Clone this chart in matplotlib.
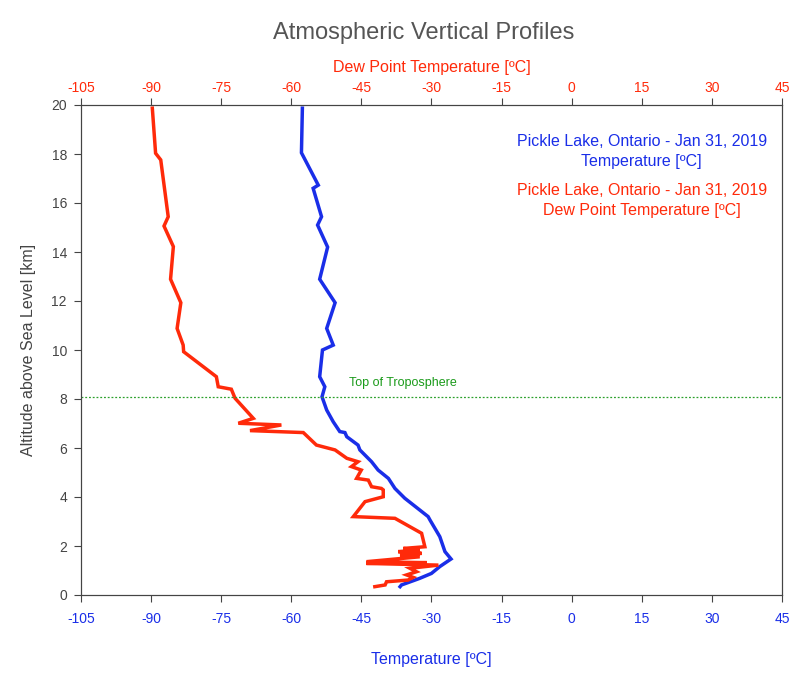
import matplotlib
matplotlib.use("Agg")
import matplotlib.pyplot as plt
import numpy as np

plt.rcParams['font.family'] = ['Liberation Sans', 'DejaVu Sans']
plt.rcParams['axes.unicode_minus'] = False

# Temperature profile (blue)
temp_c = [-57.6, -57.8, -54.2, -55.3, -53.5, -54.35, -52.2, -53.9, -50.6, -52.4,
          -51.0, -53.3, -53.9, -52.8, -53.4, -52.4, -51.0, -49.6, -48.5, -48.1,
          -45.7, -45.3, -42.8, -41.4, -39.2, -37.8, -35.7, -30.7, -30.3, -28.2,
          -27.1, -25.8, -28.2, -30.0, -32.5, -33.5, -36.4, -36.7]
temp_alt = [19.87, 18.05, 16.73, 16.6, 15.44, 15.1, 14.2, 12.89, 11.93, 10.88,
            10.2, 10.0, 8.91, 8.5, 8.09, 7.55, 7.07, 6.67, 6.63, 6.46,
            6.12, 5.92, 5.44, 5.1, 4.76, 4.35, 3.95, 3.2, 3.06, 2.38,
            1.77, 1.47, 1.16, 0.88, 0.68, 0.61, 0.41, 0.34]

# Dew point profile (red)
dew_c = [-89.7, -89.0, -87.9, -86.3, -87.2, -85.2, -85.8, -83.6, -84.4, -83.1,
         -83.0, -76.0, -75.6, -72.8, -72.0, -68.1, -71.3, -62.1, -68.8, -57.4,
         -54.6, -50.6, -48.1, -45.7, -47.1, -45.0, -46.0, -43.5, -42.8, -40.7,
         -40.3, -40.3, -44.2, -46.7, -37.8, -32.1, -31.4, -36.0, -32.5, -37.1,
         -32.1, -36.7, -32.5, -43.9, -31.0, -43.9, -28.5, -34.6, -33.2, -35.3,
         -33.9, -35.0, -39.6, -39.9, -42.1]
dew_alt = [19.87, 18.03, 17.76, 15.44, 15.06, 14.22, 12.89, 11.93, 10.88, 10.2,
           9.93, 8.91, 8.5, 8.4, 8.03, 7.21, 7.01, 6.94, 6.71, 6.63,
           6.12, 5.92, 5.58, 5.44, 5.24, 5.1, 4.76, 4.69, 4.42, 4.35,
           4.29, 4.01, 3.81, 3.2, 3.13, 2.52, 1.97, 1.9, 1.84, 1.77,
           1.7, 1.63, 1.56, 1.36, 1.32, 1.29, 1.22, 1.09, 0.95, 0.82,
           0.72, 0.61, 0.54, 0.41, 0.34]

tropopause_km = 8.1
x_ticks = [-105, -90, -75, -60, -45, -30, -15, 0, 15, 30, 45]
y_ticks = [0, 2, 4, 6, 8, 10, 12, 14, 16, 18, 20]

BLUE = '#1a2ee8'
RED = '#ff2a0a'
GRAY = '#444444'

fig = plt.figure(figsize=(8, 7), dpi=100)
ax = fig.add_axes([0.101, 0.15, 0.8765, 0.70])
ax.plot(temp_c, temp_alt, color=BLUE, lw=2.5, solid_joinstyle='miter')
ax.plot(dew_c, dew_alt, color=RED, lw=2.5, solid_joinstyle='miter')
ax.axhline(tropopause_km, color='#2ca02c', lw=0.9, ls=(0, (1.5, 1.5)))
ax.text(-36, tropopause_km + 0.3, 'Top of Troposphere', color='#1a9a1a',
        fontsize=9, ha='center', va='bottom')

ax.set_xlim(-105, 45)
ax.set_ylim(0, 20)
ax.set_xticks(x_ticks)
ax.set_yticks(y_ticks)
ax.tick_params(axis='x', colors=BLUE, labelsize=10, length=5, pad=7)
ax.tick_params(axis='y', colors=GRAY, labelsize=10, length=5, pad=5)
ax.tick_params(axis='x', which='both', color=GRAY)
ax.tick_params(axis='y', which='both', color=GRAY)
for s in ax.spines.values():
    s.set_color(GRAY)
    s.set_linewidth(0.8)
ax.set_xlabel('Temperature [ºC]', color=BLUE, fontsize=11.5, labelpad=19)
ax.set_ylabel('Altitude above Sea Level [km]', color=GRAY, fontsize=11.5, labelpad=11)

ax2 = ax.twiny()
ax2.set_xlim(-105, 45)
ax2.set_xticks(x_ticks)
ax2.tick_params(axis='x', labelcolor=RED, color=GRAY, labelsize=10, length=5, pad=2)
ax2.set_xlabel('Dew Point Temperature [ºC]', color=RED, fontsize=11.5, labelpad=7)
for s in ax2.spines.values():
    s.set_color(GRAY)
    s.set_linewidth(0.8)

ax.text(0.80, 0.94, 'Pickle Lake, Ontario - Jan 31, 2019\nTemperature [ºC]',
        transform=ax.transAxes, color=BLUE, fontsize=11.5, ha='center', va='top',
        linespacing=1.35)
ax.text(0.80, 0.84, 'Pickle Lake, Ontario - Jan 31, 2019\nDew Point Temperature [ºC]',
        transform=ax.transAxes, color=RED, fontsize=11.5, ha='center', va='top',
        linespacing=1.35)

fig.text(0.53, 0.953, 'Atmospheric Vertical Profiles', color='#555555',
         fontsize=17, ha='center', va='center')

fig.savefig('out.png', dpi=100)
